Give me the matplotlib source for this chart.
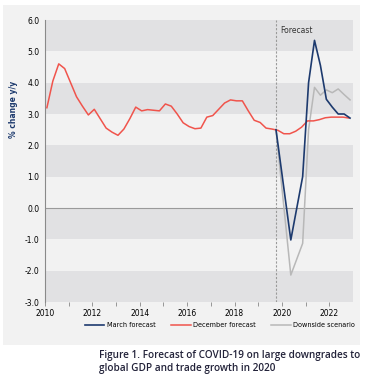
import matplotlib.pyplot as plt
import numpy as np
from matplotlib.patches import Rectangle

# December forecast, quarterly from 2010
december = [3.2, 4.05, 4.6, 4.45, 4.0, 3.55, 3.25, 2.97, 3.15, 2.85, 2.55, 2.42, 2.32,
            2.52, 2.85, 3.22, 3.1, 3.14, 3.12, 3.1, 3.32, 3.25, 3.0, 2.72, 2.6, 2.53,
            2.55, 2.9, 2.95, 3.15, 3.35, 3.45, 3.42, 3.42, 3.1, 2.8, 2.73, 2.55, 2.52,
            2.48, 2.37, 2.37, 2.45, 2.58, 2.78, 2.78, 2.82, 2.88, 2.9, 2.9, 2.9, 2.87]
dec_start = 2010.08

# March forecast and downside scenario
fc_years = [2019.75, 2020.375, 2020.875, 2021.125, 2021.375, 2021.625, 2021.875,
            2022.125, 2022.375, 2022.625, 2022.875]
march = [2.5, -1.02, 1.0, 4.0, 5.35, 4.55, 3.47, 3.22, 3.0, 3.0, 2.87]
downside = [2.5, -2.14, -1.13, 2.5, 3.85, 3.6, 3.77, 3.68, 3.8, 3.62, 3.45]

year_ticks = [2010, 2012, 2014, 2016, 2018, 2020, 2022]
y_ticks = np.arange(-3, 7, 1)

navy = '#1d3a6e'
red = '#f0544c'
grey = '#b8b8b8'
narrow = ['Liberation Sans Narrow', 'DejaVu Sans']

fig = plt.figure(figsize=(3.66, 3.85), dpi=100)
fig.patch.set_facecolor('white')
fig.patches.append(Rectangle((3 / 366, 1 - 345 / 385), 357 / 366, 340 / 385,
                             transform=fig.transFigure, facecolor='#f2f2f2',
                             edgecolor='none', zorder=-5))

ax = fig.add_axes([45 / 366, 1 - 302 / 385, 308 / 366, 282 / 385])
ax.set_facecolor('#f2f2f2')
ax.set_xlim(2010, 2023)
ax.set_ylim(-3, 6)

# alternating bands
for lo in y_ticks[:-1]:
    if (lo - 5) % 2 == 0:
        ax.axhspan(lo, lo + 1, color='#e1e1e3', lw=0, zorder=0)

ax.axhline(0, color='#9a9a9a', lw=0.8, zorder=1)
ax.axvline(2019.75, color='#9a9a9a', lw=0.8, ls=(0, (2, 1.5)), zorder=1)
ax.text(2019.95, 5.58, 'Forecast', fontsize=5.5, family=narrow, color='#333333')

dec_x = dec_start + np.arange(len(december)) * 0.25
ax.plot(fc_years, downside, color=grey, lw=1.1, zorder=2, label='Downside scenario')
ax.plot(dec_x, december, color=red, lw=1.1, zorder=3, label='December forecast')
ax.plot(fc_years, march, color=navy, lw=1.2, zorder=4, label='March forecast')

ax.set_xticks(year_ticks)
ax.set_xticks(np.arange(2011, 2023, 2), minor=True)
ax.set_xticklabels([str(y) for y in year_ticks], fontsize=5.5, family=narrow)
ax.set_yticks(y_ticks)
ax.set_yticklabels([f'{v:.1f}' for v in y_ticks], fontsize=5.5, family=narrow)
ax.tick_params(axis='x', which='both', direction='out', length=3, width=0.6,
               color='#888888', pad=2)
ax.tick_params(axis='y', length=0, pad=4)
for s in ['top', 'right', 'bottom']:
    ax.spines[s].set_visible(False)
ax.spines['left'].set_color('#8a8a8a')
ax.spines['left'].set_linewidth(0.8)

fig.text(13 / 366, 1 - 109 / 385, '% change y/y', rotation=90, ha='center',
         va='center', fontsize=5.5, color=navy, fontweight='bold', family=narrow)

handles, labels = ax.get_legend_handles_labels()
order = [2, 1, 0]
fig.legend([handles[i] for i in order], [labels[i] for i in order],
           loc='center', bbox_to_anchor=(220 / 366, 1 - 325 / 385), ncol=3,
           frameon=False, prop={'family': narrow, 'size': 4.7},
           handlelength=3.0, columnspacing=2.4, handletextpad=0.35)

fig.text(99 / 366, 1 - 350 / 385,
         'Figure 1. Forecast of COVID-19 on large downgrades to\nglobal GDP and trade growth in 2020',
         ha='left', va='top', fontsize=7.2, color='#23233a', fontweight='semibold',
         family=['Open Sans', 'DejaVu Sans'], linespacing=1.3)

fig.savefig('out.png', dpi=100)
